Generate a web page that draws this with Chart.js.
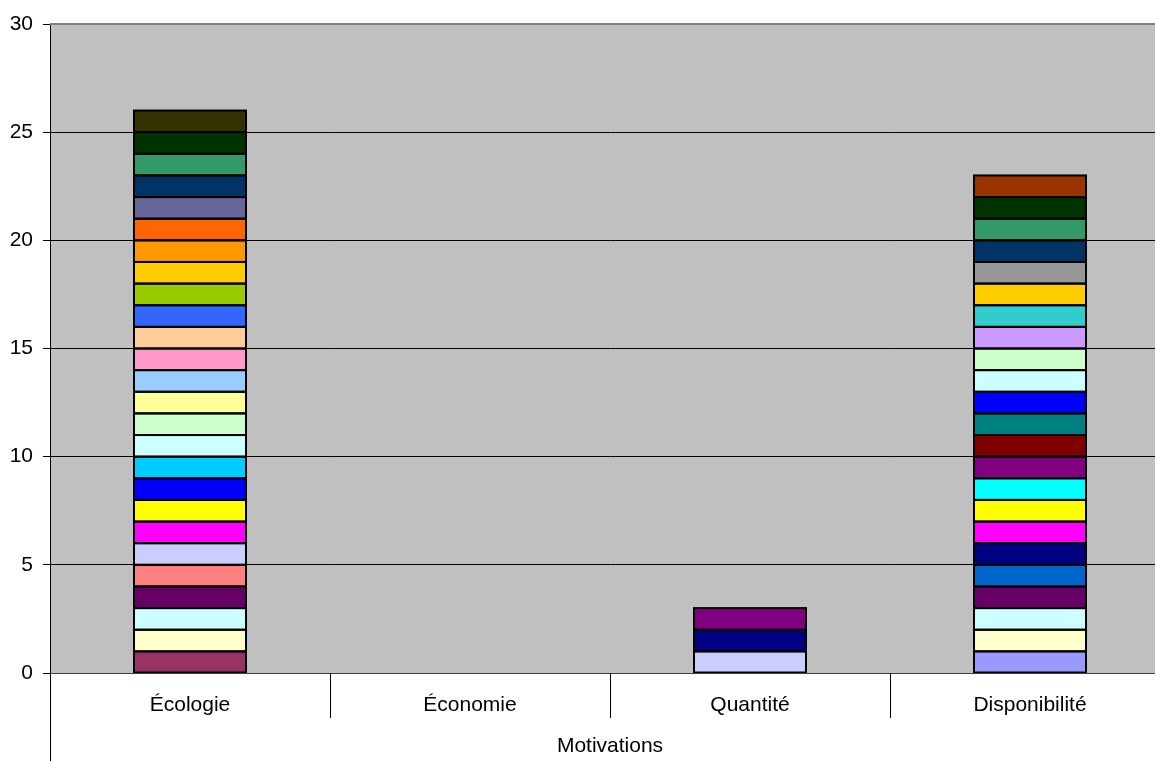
<!DOCTYPE html>
<html>
<head>
<meta charset="utf-8">
<script src="https://cdn.jsdelivr.net/npm/chart.js@4/dist/chart.umd.min.js"></script>
<style>
  html, body { margin: 0; padding: 0; background: #fff; overflow: hidden; width: 1155px; height: 761px; }
  #wrap { position: absolute; left: 0; top: 0; width: 1172px; height: 761px; }
</style>
</head>
<body>
<div id="wrap"><canvas id="c" width="1172" height="761"></canvas></div>
<script>
// ---- Data ----
const categories = ['Écologie', 'Économie', 'Quantité', 'Disponibilité'];
const axisTitle = 'Motivations';
const yTicks = [0, 5, 10, 15, 20, 25, 30];

// segment values per category, bottom to top (each segment = 1)
const ecologieValues     = [1,1,1,1,1,1,1,1,1,1,1,1,1,1,1,1,1,1,1,1,1,1,1,1,1,1];
const economieValues     = [];
const quantiteValues     = [1,1,1];
const disponibiliteValues = [1,1,1,1,1,1,1,1,1,1,1,1,1,1,1,1,1,1,1,1,1,1,1];

// segment fill colours per category, bottom to top
const ecologieColors = ['#993366','#FFFFCC','#CCFFFF','#660066','#FF8080','#CCCCFF','#FF00FF','#FFFF00','#0000FF','#00CCFF','#CCFFFF','#CCFFCC','#FFFF99','#99CCFF','#FF99CC','#FFCC99','#3366FF','#99CC00','#FFCC00','#FF9900','#FF6600','#666699','#003366','#339966','#003300','#333300'];
const economieColors = [];
const quantiteColors = ['#CCCCFF','#000080','#800080'];
const disponibiliteColors = ['#9999FF','#FFFFCC','#CCFFFF','#660066','#0066CC','#000080','#FF00FF','#FFFF00','#00FFFF','#800080','#800000','#008080','#0000FF','#CCFFFF','#CCFFCC','#CC99FF','#33CCCC','#FFCC00','#969696','#003366','#339966','#003300','#993300'];

// ---- Build datasets ----
const valueCols = [ecologieValues, economieValues, quantiteValues, disponibiliteValues];
const colorCols = [ecologieColors, economieColors, quantiteColors, disponibiliteColors];
const nLayers = Math.max(...valueCols.map(v => v.length));
const datasets = [];
for (let i = 0; i < nLayers; i++) {
  datasets.push({
    label: 'S' + (i + 1),
    data: valueCols.map(v => (i < v.length ? v[i] : null)),
    backgroundColor: colorCols.map(c => c[i] || 'rgba(0,0,0,0)'),
    borderWidth: 0,
    barPercentage: 0.4,
    categoryPercentage: 1.0
  });
}

const FONT = "'Liberation Sans', Arial, sans-serif";

const decor = {
  id: 'decor',
  beforeDraw(chart) {
    const { ctx, chartArea: a } = chart;
    ctx.save();
    ctx.fillStyle = '#C0C0C0';
    ctx.fillRect(a.left, a.top, a.right - a.left, a.bottom - a.top);
    ctx.restore();
  },
  afterDatasetsDraw(chart) {
    const { ctx } = chart;
    ctx.save();
    ctx.strokeStyle = '#000';
    ctx.lineWidth = 2;
    chart.data.datasets.forEach((ds, di) => {
      const meta = chart.getDatasetMeta(di);
      meta.data.forEach((el, i) => {
        if (ds.data[i] == null) return;
        const { x, y, base, width } = el.getProps(['x', 'y', 'base', 'width'], true);
        ctx.strokeRect(x - width / 2, Math.min(y, base), width, Math.abs(base - y));
      });
    });
    ctx.restore();
  },
  afterDraw(chart) {
    const { ctx, chartArea: a } = chart;
    ctx.save();
    // plot-area border (top)
    ctx.strokeStyle = '#808080';
    ctx.lineWidth = 2;
    ctx.beginPath();
    ctx.moveTo(a.left, a.top);
    ctx.lineTo(a.right, a.top);
    ctx.stroke();
    // bottom axis line
    ctx.strokeStyle = '#404040';
    ctx.lineWidth = 1;
    ctx.beginPath();
    ctx.moveTo(a.left, a.bottom + 0.5);
    ctx.lineTo(a.right, a.bottom + 0.5);
    ctx.stroke();
    // category separators
    ctx.strokeStyle = '#000';
    const n = categories.length;
    const step = (a.right - a.left) / n;
    for (let i = 1; i < n; i++) {
      const px = Math.round(a.left + step * i) + 0.5;
      ctx.beginPath();
      ctx.moveTo(px, a.bottom);
      ctx.lineTo(px, a.bottom + 45);
      ctx.stroke();
    }
    // left axis extension (multi-level)
    ctx.beginPath();
    ctx.moveTo(a.left + 0.5, a.bottom);
    ctx.lineTo(a.left + 0.5, chart.height);
    ctx.stroke();
    ctx.restore();
  }
};

new Chart(document.getElementById('c'), {
  type: 'bar',
  data: { labels: categories, datasets },
  plugins: [decor],
  options: {
    responsive: false,
    animation: false,
    layout: { padding: { top: 24, right: 2, bottom: 0, left: 0 } },
    plugins: { legend: { display: false }, tooltip: { enabled: false } },
    scales: {
      x: {
        stacked: true,
        grid: { display: false, drawTicks: false },
        border: { display: false },
        ticks: { color: '#000', font: { family: FONT, size: 21 }, padding: 20, maxRotation: 0 },
        title: { display: true, text: axisTitle, color: '#000', font: { family: FONT, size: 21 }, padding: { top: 0, bottom: 2 } },
        afterFit(s) { s.height = 88; }
      },
      y: {
        stacked: true,
        min: 0, max: 30,
        afterBuildTicks(s) { s.ticks = yTicks.map(v => ({ value: v })); },
        grid: { color: '#000', lineWidth: 1, tickLength: 7, tickColor: '#000' },
        border: { display: true, color: '#000', width: 1 },
        ticks: { color: '#000', font: { family: FONT, size: 21 }, padding: 10 },
        afterFit(s) { s.width = 50; }
      }
    }
  }
});
</script>
</body>
</html>
